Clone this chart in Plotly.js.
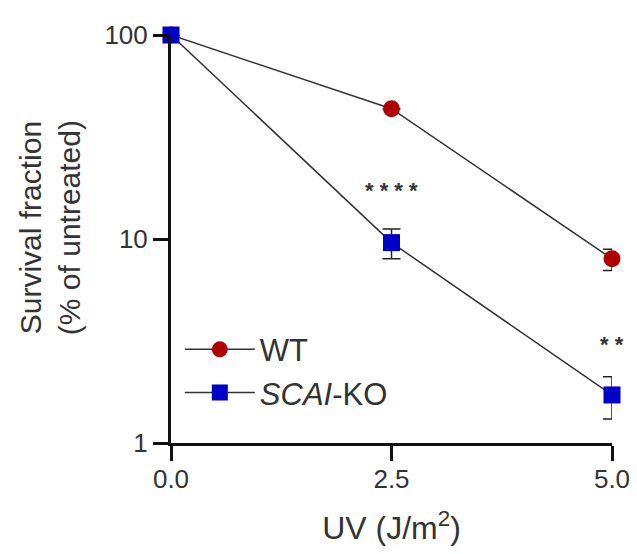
<!DOCTYPE html>
<html><head><meta charset="utf-8">
<script src="https://cdn.plot.ly/plotly-3.0.1.min.js"></script>
<style>body{margin:0;background:#fff}#chart{width:637px;height:554px}</style>
</head><body><div id="chart"></div>
<script>
const doses = [0, 2.5, 5.0];
const wtMean = [100, 43.5, 8.0];
const wtErrUp = [0, 0, 0.9];
const wtErrDown = [0, 0, 1.0];
const koMean = [100, 9.6, 1.72];
const koErrUp = [0, 1.6, 0.39];
const koErrDown = [0, 1.6, 0.41];
const sigLabels = ["<b>* * * *</b>", "<b>* *</b>"];
const sigX = [2.5, 5.0];
const sigY = [17.2, 3.04];
const yTitle = 'Survival fraction<br>(% of untreated)';
const xTitle = 'UV (J/m<sup>2</sup>)';

const font = "Arial, 'Liberation Sans', sans-serif";
const traces = [
  {x: doses, y: wtMean, name: 'WT', type: 'scatter', mode: 'lines+markers',
   line: {color: '#333', width: 1.5},
   marker: {symbol: 'circle', size: 17, color: '#b00000'},
   error_y: {type: 'data', symmetric: false, array: wtErrUp, arrayminus: wtErrDown, color: '#222', thickness: 1.5, width: 9},
   cliponaxis: false},
  {x: doses, y: koMean, name: '<i>SCAI</i>-KO', type: 'scatter', mode: 'lines+markers',
   line: {color: '#333', width: 1.5},
   marker: {symbol: 'square', size: 17, color: '#0000c8'},
   error_y: {type: 'data', symmetric: false, array: koErrUp, arrayminus: koErrDown, color: '#222', thickness: 1.5, width: 9},
   cliponaxis: false}
];
const annots = sigLabels.map((t, i) => ({x: sigX[i], y: Math.log10(sigY[i]), xref: 'x', yref: 'y', text: t, showarrow: false, font: {size: 22, family: font, color: '#333'}}));
annots.push({x: -0.274, y: 0.527, xref: 'paper', yref: 'paper', xanchor: 'center', yanchor: 'middle', textangle: -90, text: yTitle, showarrow: false, font: {size: 30, family: font, color: '#333'}});
const layout = {
  width: 637, height: 554,
  margin: {l: 171, r: 25, t: 35, b: 111},
  paper_bgcolor: '#fff', plot_bgcolor: '#fff',
  font: {family: font, color: '#222', size: 25},
  showlegend: true,
  legend: {x: 0.02, y: 0.295, xanchor: 'left', yanchor: 'top', font: {size: 31, family: font, color: '#333'}, bgcolor: 'rgba(0,0,0,0)', tracegroupgap: 0, itemwidth: 70},
  xaxis: {range: [0, 5], tickvals: [0, 2.5, 5], ticktext: ['0.0', '2.5', '5.0'],
    showgrid: false, zeroline: false, showline: true, linecolor: '#111', linewidth: 3,
    ticks: 'outside', ticklen: 15, tickwidth: 3, tickcolor: '#111', ticklabelstandoff: -4,
    tickfont: {size: 26, family: font, color: '#333'},
    title: {text: xTitle, font: {size: 32, family: font, color: '#333'}, standoff: 24}},
  yaxis: {type: 'log', range: [0, 2], tickvals: [1, 10, 100], ticktext: ['1', '10', '100'],
    showgrid: false, zeroline: false, showline: true, linecolor: '#111', linewidth: 3,
    ticks: 'outside', ticklen: 15, tickwidth: 3, tickcolor: '#111',
    tickfont: {size: 26, family: font, color: '#333'}},
  annotations: annots
};
Plotly.newPlot('chart', traces, layout, {displayModeBar: false, staticPlot: true});
</script></body></html>
